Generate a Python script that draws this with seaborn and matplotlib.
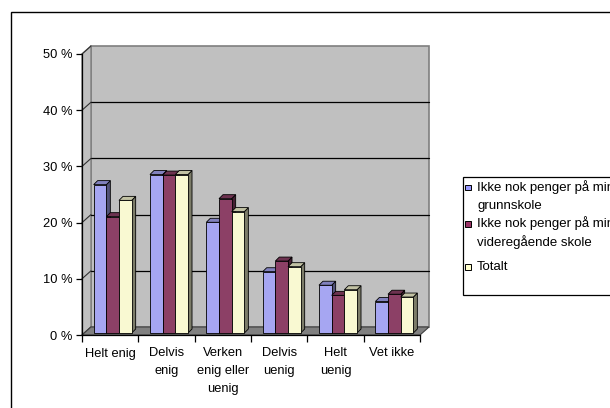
import numpy as np
import pandas as pd
import matplotlib
matplotlib.use("Agg")
import matplotlib.pyplot as plt
import matplotlib.transforms as mtransforms
from matplotlib.patches import Polygon, Rectangle
from matplotlib.lines import Line2D
import seaborn as sns

# ---- data -------------------------------------------------------------
categories = ["Helt enig", "Delvis\nenig", "Verken\nenig eller\nuenig",
              "Delvis\nuenig", "Helt\nuenig", "Vet ikke"]
series_names = ["Ikke nok penger på min grunnskole",
                "Ikke nok penger på min videregående skole",
                "Totalt"]
legend_labels = ["Ikke nok penger på min\ngrunnskole",
                 "Ikke nok penger på min\nvideregående skole",
                 "Totalt"]
grunnskole = [26.4, 28.2, 19.7, 10.9, 8.5, 5.6]
videregaende = [20.7, 28.1, 23.9, 12.8, 6.7, 6.9]
totalt = [23.6, 28.2, 21.6, 11.8, 7.7, 6.4]
yticks = [0, 10, 20, 30, 40, 50]
ytick_labels = ["0 %", "10 %", "20 %", "30 %", "40 %", "50 %"]

colors = ["#9999FF", "#993366", "#FFFFCC"]

df = pd.DataFrame({
    "kategori": categories * 3,
    "serie": sum([[s] * len(categories) for s in series_names], []),
    "andel": grunnskole + videregaende + totalt,
})

# ---- figure -----------------------------------------------------------
sns.set_theme(style="white")
plt.rcParams["font.family"] = ["Liberation Sans", "DejaVu Sans"]
FS = 9.3
plt.rcParams["font.size"] = FS

W, H = 610, 408
fig = plt.figure(figsize=(W / 100, H / 100), dpi=100)
fig.patch.set_facecolor("white")

# front plane of the 3-D plot, in pixels
px_left, px_right, px_bottom, px_top = 82, 420, 335, 54
ax = fig.add_axes([px_left / W, (H - px_bottom) / H,
                   (px_right - px_left) / W, (px_bottom - px_top) / H])
ax.set_facecolor("none")

sns.barplot(data=df, x="kategori", y="andel", hue="serie",
            order=categories, hue_order=series_names,
            palette=colors, width=0.675, errorbar=None,
            edgecolor="black", linewidth=0.6, legend=False, ax=ax)

ax.set_xlim(-0.5, len(categories) - 0.5)
ax.set_ylim(0, 50)
ax.set_xlabel("")
ax.set_ylabel("")

# depth offsets (pixels)
wall_dx, wall_dy = 9.0, 8.0     # floor / back wall depth
bar_dx, bar_dy = 4.0, 4.0       # depth of each bar
shift_x, shift_y = 2.5, 2.0     # bars stand slightly behind the front edge

ident = mtransforms.IdentityTransform()
to_disp = ax.transData.transform

X0, Y0 = to_disp((-0.5, 0))
X1, Y1 = to_disp((len(categories) - 0.5, 50))

wall_edge = "#7f7f7f"
# back wall
ax.add_patch(Polygon([(X0 + wall_dx, Y0 + wall_dy), (X1 + wall_dx, Y0 + wall_dy),
                      (X1 + wall_dx, Y1 + wall_dy), (X0 + wall_dx, Y1 + wall_dy)],
                     closed=True, facecolor="#c0c0c0", edgecolor=wall_edge,
                     linewidth=1.2, transform=ident, clip_on=False, zorder=0.5))
# side wall
ax.add_patch(Polygon([(X0, Y0), (X0, Y1), (X0 + wall_dx, Y1 + wall_dy),
                      (X0 + wall_dx, Y0 + wall_dy)],
                     closed=True, facecolor="#c0c0c0", edgecolor=wall_edge,
                     linewidth=1.0, transform=ident, clip_on=False, zorder=0.5))
# floor
ax.add_patch(Polygon([(X0, Y0), (X1, Y0), (X1 + wall_dx, Y0 + wall_dy),
                      (X0 + wall_dx, Y0 + wall_dy)],
                     closed=True, facecolor="#808080", edgecolor="#404040",
                     linewidth=0.8, transform=ident, clip_on=False, zorder=0.6))

# gridlines on the back wall and their continuation on the side wall
for v in yticks:
    _, Yv = to_disp((0, v))
    if 0 < v < 50:
        ax.add_line(Line2D([X0 + wall_dx, X1 + wall_dx], [Yv + wall_dy, Yv + wall_dy],
                           color="black", linewidth=0.9, transform=ident,
                           clip_on=False, zorder=0.55))
    ax.add_line(Line2D([X0, X0 + wall_dx], [Yv, Yv + wall_dy],
                       color="#303030", linewidth=0.8, transform=ident,
                       clip_on=False, zorder=0.55))


def shade(rgba, f):
    r, g, b = matplotlib.colors.to_rgb(rgba)
    return (r * f, g * f, b * f)


# give every bar a right side and a top face
bars = [b for b in ax.patches if isinstance(b, Rectangle)
        and b.get_height() > 0 and b.get_width() < 0.5]
bars.sort(key=lambda b: b.get_x())
offset = mtransforms.Affine2D().translate(shift_x, shift_y)
for rank, bar in enumerate(bars):
    x, w, h = bar.get_x(), bar.get_width(), bar.get_height()
    base = bar.get_facecolor()
    bx0, by0 = to_disp((x, 0))
    bx1, by1 = to_disp((x + w, h))
    bx0 += shift_x; bx1 += shift_x
    by0 += shift_y; by1 += shift_y
    z = 2 + rank * 0.01
    bar.set_transform(ax.transData + offset)
    bar.set_clip_on(False)
    bar.set_zorder(z)
    side = Polygon([(bx1, by0), (bx1, by1), (bx1 + bar_dx, by1 + bar_dy),
                    (bx1 + bar_dx, by0 + bar_dy)], closed=True,
                   facecolor=shade(base, 0.5), edgecolor="black", linewidth=0.6,
                   transform=ident, clip_on=False, zorder=z - 0.001)
    top = Polygon([(bx0, by1), (bx1, by1), (bx1 + bar_dx, by1 + bar_dy),
                   (bx0 + bar_dx, by1 + bar_dy)], closed=True,
                  facecolor=shade(base, 0.78), edgecolor="black", linewidth=0.6,
                  transform=ident, clip_on=False, zorder=z - 0.001)
    ax.add_patch(side)
    ax.add_patch(top)

# axes, ticks and labels
for s in ["top", "right"]:
    ax.spines[s].set_visible(False)
for s in ["left", "bottom"]:
    ax.spines[s].set_visible(True)
    ax.spines[s].set_color("black")
    ax.spines[s].set_linewidth(0.9)
    ax.spines[s].set_zorder(3)

ax.set_yticks(yticks, labels=ytick_labels)
ax.tick_params(axis="y", which="major", direction="out", length=4, width=0.9,
               color="black", pad=3, labelsize=FS, labelcolor="black", left=True)

ax.set_xticks(np.arange(-0.5, len(categories), 1.0))
ax.set_xticklabels([""] * (len(categories) + 1))
ax.set_xticks(np.arange(len(categories)), minor=True)
ax.set_xticklabels(categories, minor=True, linespacing=1.62)
ax.tick_params(axis="x", which="major", direction="out", length=5, width=0.9,
               color="black", bottom=True)
ax.tick_params(axis="x", which="minor", length=0, pad=9, labelsize=FS,
               labelcolor="black")
ax.grid(False)

# ---- legend -------------------------------------------------------------
def fx(px):
    return px / W


def fy(py):
    return 1 - py / H


leg_left, leg_top, leg_bottom = 462.5, 176.5, 294.5
fig.add_artist(Rectangle((fx(leg_left + 1.5), fy(leg_bottom + 1.5)),
                         fx(200), (leg_bottom - leg_top) / H,
                         transform=fig.transFigure, facecolor="#404040",
                         edgecolor="none", zorder=4))
fig.add_artist(Rectangle((fx(leg_left), fy(leg_bottom)),
                         fx(200), (leg_bottom - leg_top) / H,
                         transform=fig.transFigure, facecolor="white",
                         edgecolor="black", linewidth=0.9, zorder=5))
line1_y = [187, 223.5, 266.5]
for label, color, ly in zip(legend_labels, colors, line1_y):
    fig.add_artist(Rectangle((fx(465.5), fy(ly + 3)), fx(5.5), 5.5 / H,
                             transform=fig.transFigure, facecolor=color,
                             edgecolor="black", linewidth=0.7, zorder=6))
    for i, t in enumerate(label.split("\n")):
        fig.text(fx(477), fy(ly + i * 18.5), t, ha="left", va="center",
                 fontsize=FS + 0.2, color="black", zorder=6)

# outer chart-area frame
fig.add_artist(Rectangle((fx(10.5), fy(H + 20)), fx(W), (H + 20 - 11.5) / H,
                         transform=fig.transFigure, facecolor="none",
                         edgecolor="black", linewidth=1.0, zorder=7))

fig.savefig("out.png", dpi=100, facecolor="white")
